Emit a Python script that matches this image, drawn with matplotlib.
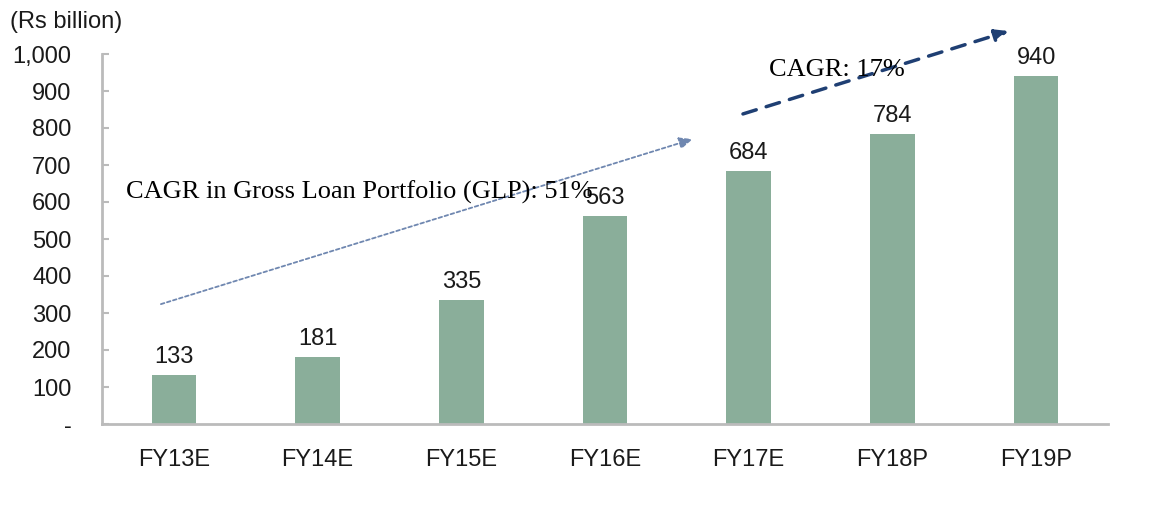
import matplotlib
matplotlib.use("Agg")
import matplotlib.pyplot as plt

categories = ["FY13E", "FY14E", "FY15E", "FY16E", "FY17E", "FY18P", "FY19P"]
values = [133, 181, 335, 563, 684, 784, 940]
ytick_vals = [0, 100, 200, 300, 400, 500, 600, 700, 800, 900, 1000]
ytick_labels = ["-", "100", "200", "300", "400", "500", "600", "700", "800", "900", "1,000"]

plt.rcParams['font.family'] = ['Liberation Sans', 'DejaVu Sans']

fig = plt.figure(figsize=(11.54, 5.24), dpi=100)
ax = fig.add_axes([102 / 1154, 100 / 524, 1006 / 1154, 370 / 524])

x = list(range(len(categories)))
bars = ax.bar(x, values, width=0.31, color="#8AAE9A")
for xi, v in zip(x, values):
    ax.annotate(str(v), (xi, v), xytext=(0, 5), textcoords="offset points",
                ha="center", va="bottom", fontsize=17, color="#1a1a1a")

ax.set_xlim(-0.5, 6.5)
ax.set_ylim(0, 1000)
ax.set_xticks(x)
ax.set_xticklabels(categories, fontsize=17, color="#1a1a1a")
ax.set_yticks(ytick_vals)
ax.set_yticklabels(ytick_labels, fontsize=17, color="#1a1a1a")
ax.tick_params(axis="x", length=0, pad=18)
ax.tick_params(axis="y", direction="in", length=5, width=1.5, color="#BBBBBB", pad=22)
for s in ["top", "right"]:
    ax.spines[s].set_visible(False)
for s in ["left", "bottom"]:
    ax.spines[s].set_color("#BBBBBB")
    ax.spines[s].set_linewidth(2)

# CAGR arrows
ax.annotate("", xy=(3.61, 770), xytext=(-0.09, 324),
            arrowprops=dict(arrowstyle="-|>,head_length=0.8,head_width=0.35",
                            linestyle=(0, (2, 1.5)), color="#6F87B0", lw=1.3,
                            shrinkA=0, shrinkB=0), annotation_clip=False)
ax.annotate("", xy=(5.81, 1062), xytext=(3.96, 838),
            arrowprops=dict(arrowstyle="-|>,head_length=0.8,head_width=0.35",
                            linestyle=(0, (4, 3)), color="#1F3F73", lw=2.5,
                            shrinkA=0, shrinkB=0), annotation_clip=False)

ax.text(-0.33, 608, "CAGR in Gross Loan Portfolio (GLP): 51%", fontsize=19,
        family="Liberation Serif", ha="left", va="baseline", color="black")
ax.text(4.14, 940, "CAGR: 17%", fontsize=19, family="Liberation Serif",
        ha="left", va="baseline", color="black")

fig.text(10 / 1154, 1 - 28 / 524, "(Rs billion)", fontsize=17, ha="left",
         va="baseline", color="#1a1a1a")

fig.savefig("out.png", dpi=100)
